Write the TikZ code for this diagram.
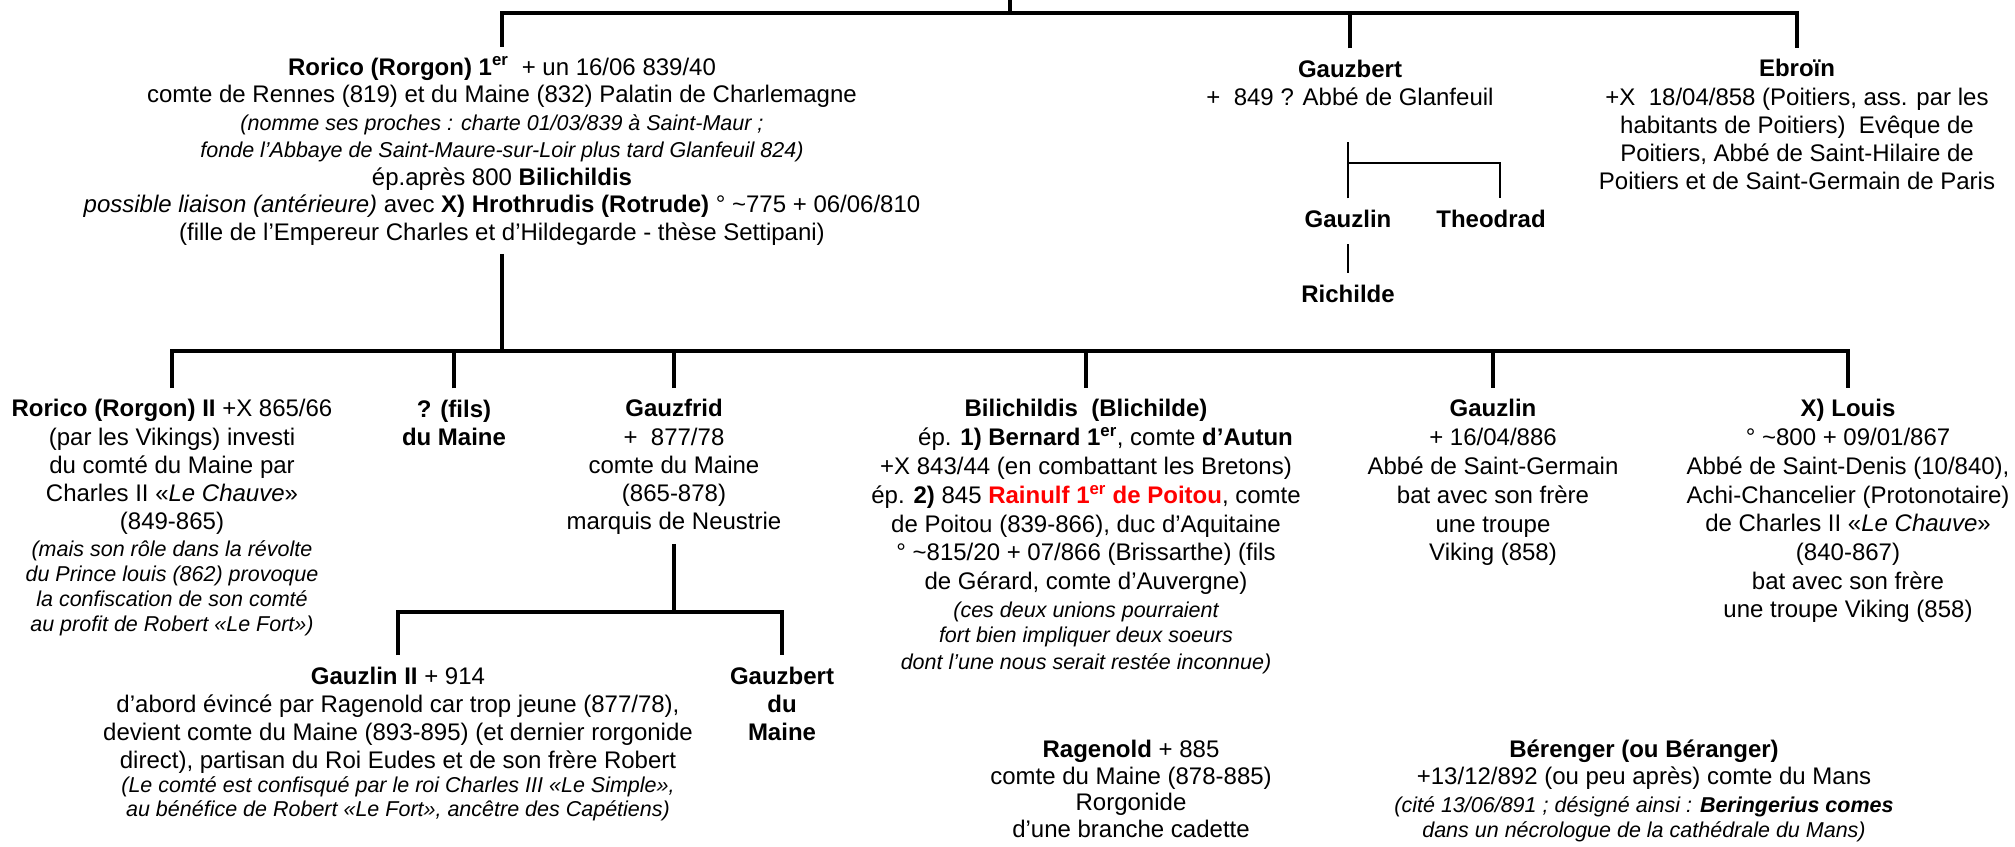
\documentclass[tikz,border=0pt]{standalone}
\usepackage{fontspec}
\setmainfont{Liberation Sans}
\usepackage{xcolor}
\newcommand\fsz[1]{\fontsize{24}{#1}\selectfont}
\newcommand\itl[1]{{\fontsize{21.5}{25}\selectfont\itshape #1}}
\tikzset{
  person/.style={align=center, inner sep=0pt, outer sep=9pt, anchor=north},
  mainline/.style={line width=3.8pt},
  subline/.style={line width=2.6pt}
}
\begin{document}
\begin{tikzpicture}[x=1pt,y=-1pt]
\useasboundingbox (0,0) rectangle (2015,846);
\fill[white] (0,0) rectangle (2015,846);

% ---- first generation
\node[person, font=\fsz{27.5}] (rorico1) at (502,46.75) {\strut\textbf{Rorico (Rorgon) 1\textsuperscript{er}}\ \ + un 16/06 839/40\\
comte de Rennes (819) et du Maine (832) Palatin de Charlemagne\\
\itl{(nomme ses proches : charte 01/03/839 à Saint-Maur ;}\\
\itl{fonde l’Abbaye de Saint-Maure-sur-Loir plus tard Glanfeuil 824)}\\
ép.après 800 \textbf{Bilichildis}\\
\textit{possible liaison (antérieure)} avec \textbf{X) Hrothrudis (Rotrude)} ° \textasciitilde775 + 06/06/810\\
(fille de l’Empereur Charles et d’Hildegarde - thèse Settipani)};

\node[person, font=\fsz{28}] (gauzbert) at (1350,48.4) {\strut\textbf{Gauzbert}\\
+\ \ 849 ? Abbé de Glanfeuil};

\node[person, font=\fsz{28.25}] (ebroin) at (1797,48.2) {\strut\textbf{Ebroïn}\\
+X\ \ 18/04/858 (Poitiers, ass. par les\\
habitants de Poitiers)\ \ Evêque de\\
Poitiers, Abbé de Saint-Hilaire de\\
Poitiers et de Saint-Germain de Paris};

\node[person, font=\fsz{28}] (gauzlinA) at (1348,198.4) {\strut\textbf{Gauzlin}};
\node[person, font=\fsz{28}] (theodrad) at (1491,198.4) {\strut\textbf{Theodrad}};
\node[person, font=\fsz{28}] (richilde) at (1348,273.4) {\strut\textbf{Richilde}};

% ---- second generation
\node[person, font=\fsz{28.25}] (roricoII) at (172,388.2) {\strut\textbf{Rorico (Rorgon) II} +X 865/66\\
(par les Vikings) investi\\
du comté du Maine par\\
Charles II «\textit{Le Chauve}»\\
(849-865)\\[-2pt]
\itl{(mais son rôle dans la révolte}\\[-3pt]
\itl{du Prince louis (862) provoque}\\[-3pt]
\itl{la confiscation de son comté}\\[-3pt]
\itl{au profit de Robert «Le Fort»)}};

\node[person, font=\fsz{28}] (fils) at (454,388.4) {\strut\textbf{? (fils)}\\
\textbf{du Maine}};

\node[person, font=\fsz{28.25}] (gauzfrid) at (674,388.2) {\strut\textbf{Gauzfrid}\\
+\ \ 877/78\\
comte du Maine\\
(865-878)\\
marquis de Neustrie};

\node[person, font=\fsz{28.8}] (bilichildis) at (1086,387.8) {\strut\textbf{Bilichildis\ \ (Blichilde)}\\
\hspace*{39pt}ép. \textbf{1) Bernard 1\textsuperscript{er}}, comte \textbf{d’Autun}\hspace*{-39pt}\\
+X 843/44 (en combattant les Bretons)\\
ép. \textbf{2)} 845 \textcolor{red}{\textbf{Rainulf 1\textsuperscript{er} de Poitou}}, comte\\
de Poitou (839-866), duc d’Aquitaine\\
° \textasciitilde815/20 + 07/866 (Brissarthe) (fils\\
de Gérard, comte d’Auvergne)\\[-1.5pt]
\itl{(ces deux unions pourraient}\\[-3pt]
\itl{fort bien impliquer deux soeurs}\\[-2pt]
\itl{dont l’une nous serait restée inconnue)}};

\node[person, font=\fsz{28.8}] (gauzlinB) at (1493,387.8) {\strut\textbf{Gauzlin}\\
+ 16/04/886\\
Abbé de Saint-Germain\\
bat avec son frère\\
une troupe\\
Viking (858)};

\node[person, font=\fsz{28.7}] (louis) at (1848,387.9) {\strut\textbf{X) Louis}\\
° \textasciitilde800 + 09/01/867\\
Abbé de Saint-Denis (10/840),\\
Achi-Chancelier (Protonotaire)\\
de Charles II «\textit{Le Chauve}»\\
(840-867)\\
bat avec son frère\\
une troupe Viking (858)};

% ---- third generation
\node[person, font=\fsz{28.3}] (gauzlinII) at (398,655.2) {\strut\textbf{Gauzlin II} + 914\\
d’abord évincé par Ragenold car trop jeune (877/78),\\
devient comte du Maine (893-895) (et dernier rorgonide\\
direct), partisan du Roi Eudes et de son frère Robert\\[-4.3pt]
\itl{(Le comté est confisqué par le roi Charles III «Le Simple»,}\\[-4.3pt]
\itl{au bénéfice de Robert «Le Fort», ancêtre des Capétiens)}};

\node[person, font=\fsz{28}] (gauzbertM) at (782,655.4) {\strut\textbf{Gauzbert}\\
\textbf{du}\\
\textbf{Maine}};

\node[person, font=\fsz{26.4}] (ragenold) at (1131,730.5) {\strut\textbf{Ragenold} + 885\\
comte du Maine (878-885)\\
Rorgonide\\
d’une branche cadette};

\node[person, font=\fsz{26.4}] (berenger) at (1644,730.5) {\strut\textbf{Bérenger (ou Béranger)}\\
+13/12/892 (ou peu après) comte du Mans\\[2pt]
\itl{(cité 13/06/891 ; désigné ainsi : \textbf{Beringerius comes}}\\[-2pt]
\itl{dans un nécrologue de la cathédrale du Mans)}};

% ---- connectors
\coordinate (top) at (1010,0);
\coordinate (bus1) at (1010,13);
\draw[mainline] (top) -- (bus1);
\draw[mainline] (rorico1.north) -- (rorico1.north |- bus1) -- (ebroin.north |- bus1) -- (ebroin.north);
\draw[mainline] (gauzbert.north) -- (gauzbert.north |- bus1);

\coordinate (gsub) at (1348,142);
\coordinate (gbus) at (1348,163);
\draw[subline] (gauzlinA.north) -- (gauzlinA.north |- gsub);
\draw[subline] (gauzlinA.north |- gbus) -| ([xshift=9pt]theodrad.north);
\draw[subline] (gauzlinA.south) -- (richilde.north);

\coordinate (bus2) at (502,351);
\draw[mainline] (rorico1.south) -- (rorico1.south |- bus2);
\draw[mainline] (roricoII.north) -- (roricoII.north |- bus2) -- (louis.north |- bus2) -- (louis.north);
\foreach \n in {fils,gauzfrid,bilichildis,gauzlinB}
  \draw[mainline] (\n.north) -- (\n.north |- bus2);

\coordinate (bus3) at (674,612);
\draw[mainline] (gauzfrid.south) -- (gauzfrid.south |- bus3);
\draw[mainline] (gauzlinII.north) -- (gauzlinII.north |- bus3) -- (gauzbertM.north |- bus3) -- (gauzbertM.north);
\end{tikzpicture}
\end{document}
